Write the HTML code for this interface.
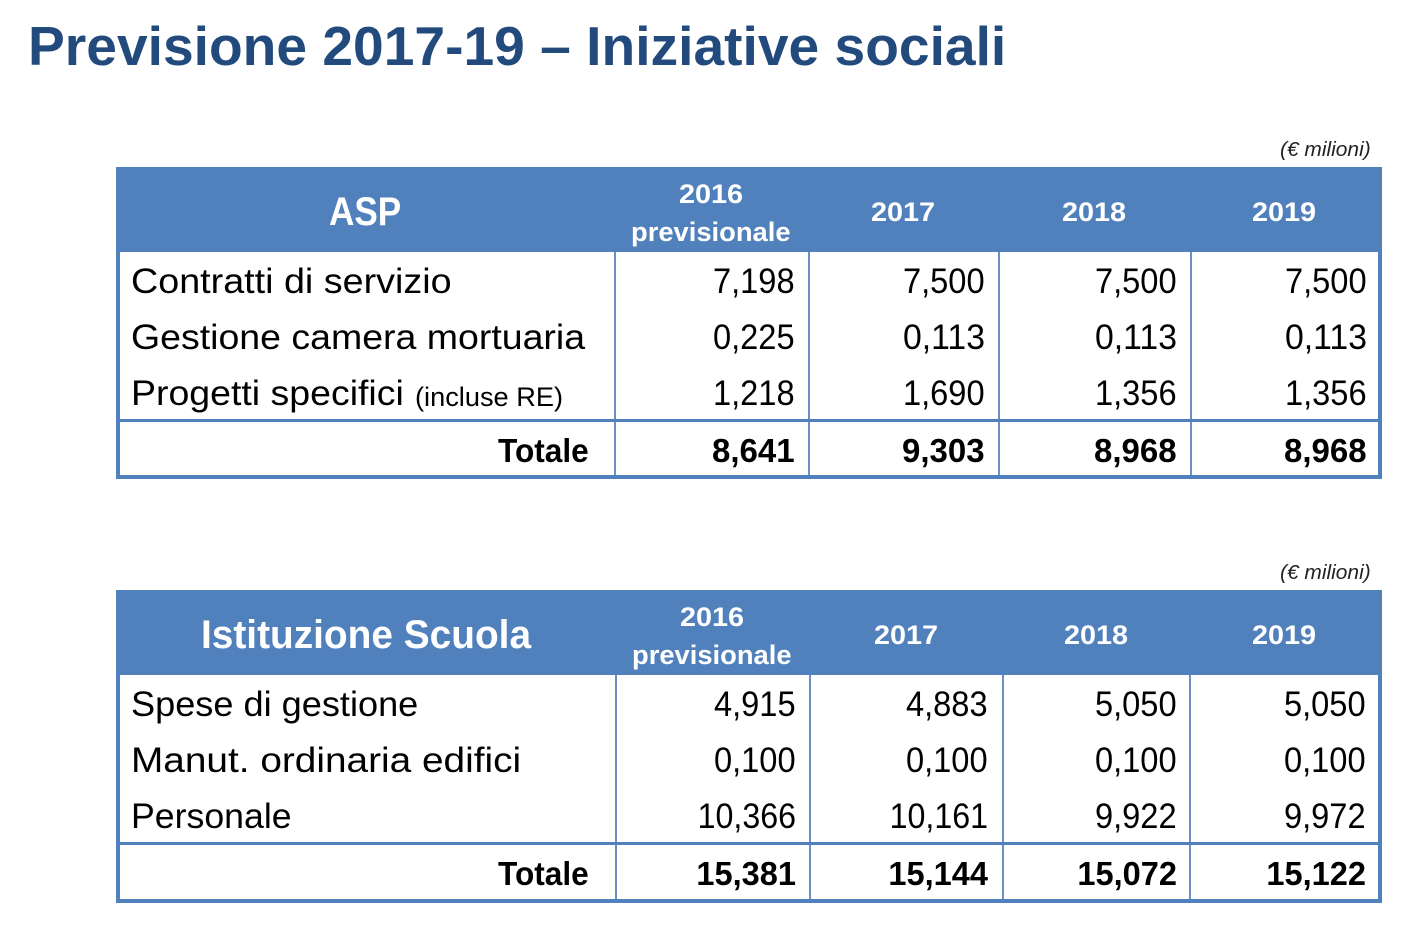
<!DOCTYPE html>
<html><head><meta charset="utf-8">
<style>
body{margin:0;width:1408px;height:950px;background:#fff;position:relative;overflow:hidden;font-family:"Liberation Sans",sans-serif}
.a{position:absolute;white-space:nowrap}
.tbl{position:absolute;border:4px solid #5081BD;box-sizing:border-box;background:#fff}
.hdr{position:absolute;left:0;right:0;top:0;background:#5081BD}
.vl{position:absolute;width:2px;background:#6c8fc4}
.hl{position:absolute;height:3px;background:#5081BD}
.t{position:absolute;white-space:nowrap;line-height:1}
</style></head><body>
<div class="a" id="title" style="left:28px;top:14px;font-size:55px;font-weight:bold;color:#234A7C;transform-origin:0 0">Previsione 2017-19 – Iniziative sociali</div>
<div id="root"></div>
<script>
const colHeads=["2017","2018","2019"];
const asp_labels=["Contratti di servizio","Gestione camera mortuaria","Progetti specifici"];
const asp_v2016=["7,198","0,225","1,218"];
const asp_v2017=["7,500","0,113","1,690"];
const asp_v2018=["7,500","0,113","1,356"];
const asp_v2019=["7,500","0,113","1,356"];
const asp_tot=["8,641","9,303","8,968","8,968"];
const sc_labels=["Spese di gestione","Manut. ordinaria edifici","Personale"];
const sc_v2016=["4,915","0,100","10,366"];
const sc_v2017=["4,883","0,100","10,161"];
const sc_v2018=["5,050","0,100","9,922"];
const sc_v2019=["5,050","0,100","9,972"];
const sc_tot=["15,381","15,144","15,072","15,122"];

function txt(parent,s,x,y,size,bold,color,align,w){
  const d=document.createElement('div');d.className='t';d.textContent=s;
  d.style.fontSize=size+'px';d.style.fontWeight=bold?'bold':'normal';d.style.color=color;
  d.style.top=(y-size/2)+'px';
  parent.appendChild(d);
  const s0=w?w/d.scrollWidth:1;
  if(align==='r'){d.style.left=(x-d.scrollWidth)+'px';d.style.transformOrigin='100% 50%';}
  else if(align==='c'){d.style.left=(x-d.scrollWidth/2)+'px';d.style.transformOrigin='50% 50%';}
  else{d.style.left=x+'px';d.style.transformOrigin='0 50%';}
  d.style.transform='scaleX('+s0+')';
  return d;
}
function build(cfg){
  const root=document.getElementById('root');
  const top=cfg.top,L=116,R=1382;
  const u=document.createElement('div');u.className='a';
  
  
  u.textContent='(€ milioni)';u.style.cssText='font-size:20px;font-style:italic;color:#222;transform-origin:100% 50%;top:'+(top-28)+'px;right:'+(1408-1371)+'px';
  root.appendChild(u);
  u.style.transform='scaleX('+(91/u.scrollWidth)+')';
  const t=document.createElement('div');t.className='tbl';
  
  
  t.style.left=L+'px';t.style.top=top+'px';t.style.width=(R-L)+'px';t.style.height=(cfg.h)+'px';
  root.appendChild(t);
  const h=document.createElement('div');h.className='hdr';
  
  
  h.style.height=(85-4)+'px';t.appendChild(h);
  const ox=L+4,oy=top+4;
  cfg.cols.forEach(c=>{const v=document.createElement('div');v.className='vl';
    
    
    v.style.left=(c-ox)+'px';v.style.top=(85-4)+'px';v.style.bottom='0';t.appendChild(v);});
  const hl=document.createElement('div');hl.className='hl';
  
  
  hl.style.left='0';hl.style.right='0';hl.style.top=(252-167-4+56*3-1)+'px';t.appendChild(hl);
  const hx=[...cfg.cols,1378];
  let d=txt(t,cfg.title,(L+cfg.cols[0])/2-ox,212-167+top-oy,cfg.titleSize,true,'#fff','c',cfg.titleW);
  
  
  d=txt(t,'2016',(hx[0]+hx[1])/2-ox,194-167+top-oy,27,true,'#fff','c',64);
  
  
  d=txt(t,'previsionale',(hx[0]+hx[1])/2-ox,232-167+top-oy,27,true,'#fff','c',160);
  
  
  colHeads.forEach((c,i)=>{const e=txt(t,c,(hx[i+1]+hx[i+2])/2-ox,212-167+top-oy,27,true,'#fff','c',64);
    
    });
  const vals=[cfg.v16,cfg.v17,cfg.v18,cfg.v19];
  cfg.labels.forEach((lab,r)=>{
    const cy=281+56*r-167+top-oy;
    const e=txt(t,lab,131-ox,cy,35,false,'#000','l',cfg.labW[r]);
    
    
    if(cfg.extra&&r===2){const x=txt(t,cfg.extra,415-ox,cy+4,27,false,'#000','l',148);
      
      }
    vals.forEach((col,ci)=>{const s=col[r];const n=txt(t,s,cfg.rx[ci]-ox,cy,35,false,'#000','r',s.length*16.4);
      
      });
  });
  const ty=450-167+top-oy;
  let e=txt(t,'Totale',589-ox,ty,33,true,'#000','r',91);
  
  
  cfg.tot.forEach((s,ci)=>{const n=txt(t,s,cfg.rx[ci]-ox,ty,33,true,'#000','r',s.length*16.6);
    
    });
}
build({name:'asp',top:167,h:312,cols:[614,808,998,1190],rx:[795,985,1177,1367],title:'ASP',titleSize:40,titleW:72,
  labels:asp_labels,extra:'(incluse RE)',labW:[321,454,273],v16:asp_v2016,v17:asp_v2017,v18:asp_v2018,v19:asp_v2019,tot:asp_tot});
build({name:'scuola',top:590,h:313,cols:[615,809,1002,1189],rx:[796,988,1177,1366],title:'Istituzione Scuola',titleSize:40,titleW:330,
  labels:sc_labels,labW:[287,390,161],v16:sc_v2016,v17:sc_v2017,v18:sc_v2018,v19:sc_v2019,tot:sc_tot});
const ti=document.getElementById('title');ti.style.transform='scaleX('+(978/ti.scrollWidth)+')';
</script>
</body></html>
